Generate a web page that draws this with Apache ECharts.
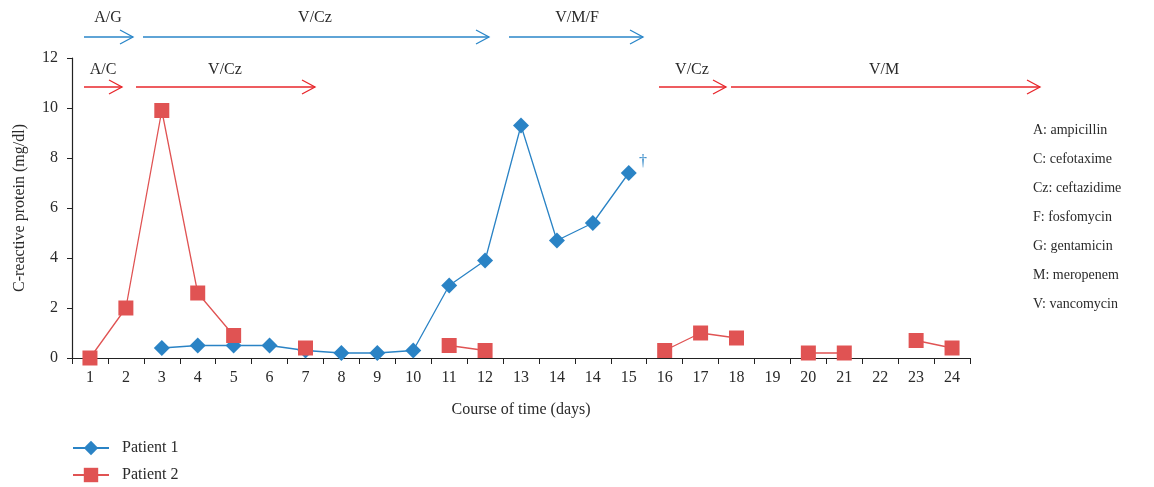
<!DOCTYPE html>
<html>
<head>
<meta charset="utf-8">
<script src="https://cdn.jsdelivr.net/npm/echarts@6/dist/echarts.min.js"></script>
<style>html,body{margin:0;padding:0;background:#fff}#c{width:1154px;height:487px}</style>
</head>
<body>
<div id="c"></div>
<script>
var days = ['1','2','3','4','5','6','7','8','9','10','11','12','13','14','14','15','16','17','18','19','20','21','22','23','24'];
var patient1 = [null,null,0.4,0.5,0.5,0.5,0.3,0.2,0.2,0.3,2.9,3.9,9.3,4.7,5.4,7.4,null,null,null,null,null,null,null,null,null];
var patient2 = [0,2.0,9.9,2.6,0.9,null,0.4,null,null,null,0.5,0.3,null,null,null,null,0.3,1.0,0.8,null,0.2,0.2,null,0.7,0.4];
var yTicks = [0,2,4,6,8,10,12];
var abbreviations = ['A: ampicillin','C: cefotaxime','Cz: ceftazidime','F: fosfomycin','G: gentamicin','M: meropenem','V: vancomycin'];
var blueTherapy = [['A/G',84,133,108],['V/Cz',143,489,315],['V/M/F',509,643,577]];
var redTherapy = [['A/C',84,122,103],['V/Cz',136,315,225],['V/Cz',659,726,692],['V/M',731,1040,884]];

var FONT = '"Liberation Serif", "DejaVu Serif", serif';
var TXT = '#2a2a2a';
var BLUE = '#2a83c5', RED = '#e05353', ARROW_BLUE = '#2a86c8', ARROW_RED = '#e8262b';

function arrow(t, y, ly, color) {
  var x1 = t[1], x2 = t[2];
  return [
    {type:'line', shape:{x1:x1,y1:y,x2:x2,y2:y}, style:{stroke:color,lineWidth:1.3}, z:10},
    {type:'polyline', shape:{points:[[x2-13,y-7],[x2,y],[x2-13,y+7]]}, style:{stroke:color,lineWidth:1.3,fill:null}, z:10},
    {type:'text', x:t[3], y:ly, style:{text:t[0], fill:TXT, font:'16px '+FONT, textAlign:'center', textVerticalAlign:'middle'}, z:10}
  ];
}
var graphics = [];
blueTherapy.forEach(function(t){ graphics = graphics.concat(arrow(t,37,18,ARROW_BLUE)); });
redTherapy.forEach(function(t){ graphics = graphics.concat(arrow(t,87,70,ARROW_RED)); });
abbreviations.forEach(function(s,i){
  graphics.push({type:'text', x:1033, y:130+i*29, style:{text:s, fill:TXT, font:'14px '+FONT, textVerticalAlign:'middle'}});
});
graphics.push({type:'text', x:639, y:162, style:{text:'\u2020', fill:BLUE, font:'16px '+FONT, textVerticalAlign:'middle'}});

var chart = echarts.init(document.getElementById('c'), null, {renderer:'canvas'});
chart.setOption({
  animation:false,
  backgroundColor:'#fff',
  textStyle:{fontFamily:FONT},
  grid:{left:72, right:184, top:58, bottom:129, containLabel:false},
  legend:{
    orient:'vertical', left:72, top:440, padding:0, itemWidth:36, itemHeight:18, itemGap:11,
    textStyle:{fontFamily:FONT, fontSize:16, color:TXT, padding:[0,0,0,8]},
    data:['Patient 1','Patient 2']
  },
  xAxis:{
    type:'category', data:days, boundaryGap:true,
    name:'Course of time (days)', nameLocation:'middle', nameGap:44,
    nameTextStyle:{fontFamily:FONT, fontSize:16, color:TXT},
    axisLine:{lineStyle:{color:'#222', width:1.2}},
    axisTick:{show:true, interval:0, length:6, lineStyle:{color:'#222'}},
    axisLabel:{interval:0, fontFamily:FONT, fontSize:16, color:TXT, margin:12}
  },
  yAxis:{
    type:'value', min:0, max:12, interval:2,
    name:'C-reactive protein (mg/dl)', nameLocation:'middle', nameGap:44, nameRotate:90,
    nameTextStyle:{fontFamily:FONT, fontSize:16, color:TXT},
    axisLine:{show:true, lineStyle:{color:'#222', width:1.2}},
    axisTick:{show:true, length:5, lineStyle:{color:'#222'}},
    splitLine:{show:false},
    axisLabel:{fontFamily:FONT, fontSize:16, color:TXT, margin:14,
      formatter:function(v){ return yTicks.indexOf(v)>=0 ? String(v) : ''; }}
  },
  series:[
    {name:'Patient 1', type:'line', data:patient1, connectNulls:false,
     symbol:'diamond', symbolSize:16, itemStyle:{color:BLUE}, lineStyle:{color:BLUE, width:1.3}, z:2},
    {name:'Patient 2', type:'line', data:patient2, connectNulls:false,
     symbol:'rect', symbolSize:15, itemStyle:{color:RED}, lineStyle:{color:RED, width:1.3}, z:3}
  ],
  graphic:graphics
});
</script>
</body>
</html>
